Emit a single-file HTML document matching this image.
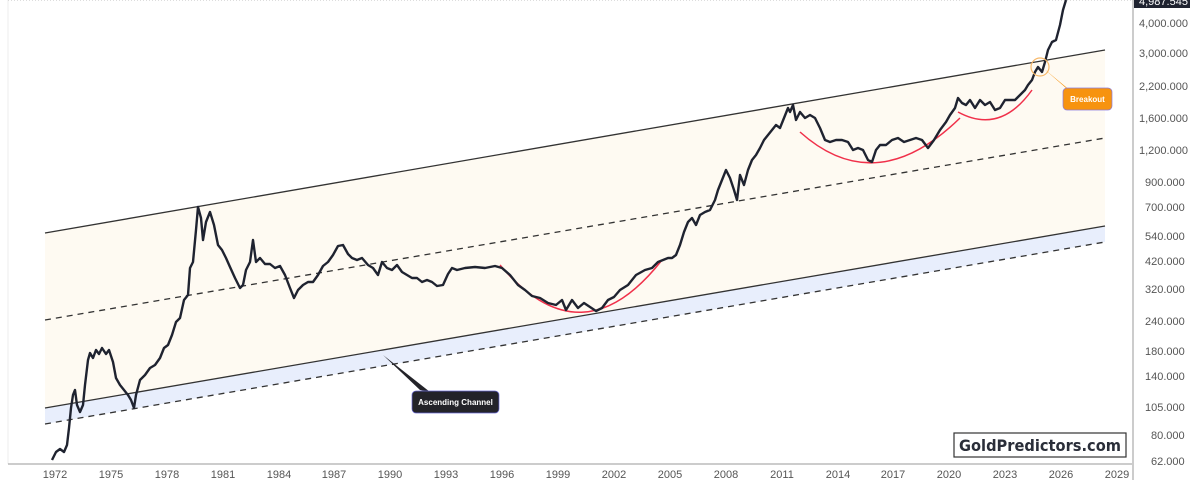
<!DOCTYPE html>
<html><head><meta charset="utf-8"><style>
body{margin:0;background:#fff;font-family:"Liberation Sans",sans-serif}
svg{display:block}
</style></head><body>
<svg width="1200" height="480" viewBox="0 0 1200 480" xmlns="http://www.w3.org/2000/svg">
<rect width="1200" height="480" fill="#fff"/>
<line x1="8" y1="0" x2="8" y2="464" stroke="#eee"/>
<line x1="8" y1="0" x2="1132" y2="0" stroke="#bbb" stroke-dasharray="1,2"/>
<polygon points="45,233 1105,50 1105,226 45,408" fill="#fefaf2"/>
<polygon points="45,408 1105,226 1105,242 45,424" fill="#e8eefc"/>
<line x1="45" y1="233" x2="1105" y2="50" stroke="#333" stroke-width="1.3"/>
<line x1="45" y1="408" x2="1105" y2="226" stroke="#333" stroke-width="1.3"/>
<line x1="45" y1="424" x2="1105" y2="242" stroke="#333" stroke-width="1.3" stroke-dasharray="6,5"/>
<line x1="45" y1="320" x2="1105" y2="138" stroke="#333" stroke-width="1.3" stroke-dasharray="6,5"/>
<path d="M500,265 Q582,362 662,260" fill="none" stroke="#f0304a" stroke-width="1.5"/>
<path d="M800,132 Q876,200 960,118" fill="none" stroke="#f0304a" stroke-width="1.5"/>
<path d="M958,112 Q1000,135 1032,90" fill="none" stroke="#f0304a" stroke-width="1.5"/>
<polyline fill="none" stroke="#1f2330" stroke-width="2.4" stroke-linejoin="round" points="52,460 56,452 60,449 64,452 67,445 69,428 71,408 73,395 75,390 77,405 80,412 83,405 85,385 88,360 90,353 93,358 96,350 99,354 102,348 106,354 109,350 113,362 116,378 120,385 124,390 128,395 131,400 134,408 136,395 140,380 145,375 150,368 155,365 160,358 164,348 168,345 172,335 176,322 180,318 184,300 188,295 190,268 193,262 196,230 198,207 201,218 203,240 206,222 210,212 214,225 218,245 222,250 226,258 230,267 235,278 240,288 243,285 246,270 250,262 253,240 256,262 260,258 265,264 270,264 275,268 280,266 285,275 290,288 294,298 298,290 303,285 308,282 313,282 318,275 323,266 328,262 333,255 338,246 343,245 348,254 352,258 357,260 362,258 368,265 373,268 378,275 382,262 387,268 392,270 397,265 402,272 407,275 412,278 417,278 422,282 427,280 432,282 437,286 443,285 448,274 452,268 457,270 465,268 475,267 485,268 495,266 502,268 510,275 518,285 525,290 532,296 540,298 548,303 556,305 562,300 566,310 572,300 578,308 584,303 590,307 596,311 602,308 608,300 614,297 620,290 628,285 636,275 645,270 652,268 658,262 663,260 668,258 672,258 676,255 680,245 684,232 688,222 692,218 696,225 700,215 705,212 710,210 715,200 718,190 722,180 726,170 730,178 734,190 737,200 740,175 744,185 748,170 752,160 756,155 760,148 764,140 768,135 772,130 776,125 780,128 784,118 788,108 790,112 793,105 796,120 800,112 805,118 810,115 815,118 820,128 825,140 830,142 836,140 842,140 848,142 853,150 858,148 863,150 868,160 872,162 876,150 880,145 886,145 892,140 898,138 904,142 910,140 916,138 922,140 928,148 934,140 940,130 946,122 950,115 955,108 958,98 962,103 966,105 970,100 975,108 980,100 985,105 990,102 995,110 1000,108 1005,100 1010,100 1015,100 1020,95 1025,90 1028,85 1032,80 1035,72 1038,67 1042,72 1045,62 1048,50 1052,42 1056,40 1060,25 1063,10 1066,0"/>
<circle cx="1040" cy="67" r="9" fill="none" stroke="#f7b96a" stroke-width="1.2"/>
<polygon points="1043,68 1066,88 1072,92" fill="#f7930f"/>
<rect x="1063" y="88" width="49" height="22" rx="4" fill="#f7930f" stroke="#8a7be0" stroke-width="0.7"/>
<text x="1087.5" y="102" font-size="8" font-weight="bold" fill="#fff" text-anchor="middle">Breakout</text>
<polygon points="383,355 420,390 430,392" fill="#232329"/>
<rect x="412" y="391" width="87" height="22" rx="4" fill="#232329" stroke="#6b6bd6" stroke-width="0.7"/>
<text x="455.5" y="405" font-size="8" font-weight="bold" fill="#fff" text-anchor="middle">Ascending Channel</text>
<rect x="954" y="433" width="172" height="24" fill="#fff" stroke="#333" stroke-width="1.2"/>
<text x="959" y="451" font-size="16" font-weight="bold" fill="#2a2e39" textLength="162" lengthAdjust="spacingAndGlyphs" font-family="DejaVu Sans, sans-serif">GoldPredictors.com</text>
<line x1="8" y1="464" x2="1132" y2="464" stroke="#999"/>
<line x1="1133" y1="0" x2="1133" y2="480" stroke="#999"/>
<g font-size="11" fill="#555" text-anchor="middle">
<text x="55" y="478">1972</text><text x="111" y="478">1975</text><text x="167" y="478">1978</text><text x="223" y="478">1981</text><text x="279" y="478">1984</text><text x="334" y="478">1987</text><text x="390" y="478">1990</text><text x="446" y="478">1993</text><text x="502" y="478">1996</text><text x="558" y="478">1999</text><text x="614" y="478">2002</text><text x="670" y="478">2005</text><text x="726" y="478">2008</text><text x="782" y="478">2011</text><text x="838" y="478">2014</text><text x="893" y="478">2017</text><text x="949" y="478">2020</text><text x="1005" y="478">2023</text><text x="1061" y="478">2026</text><text x="1117" y="478">2029</text>
</g>
<g font-size="11" fill="#555">
<text x="1139" y="27">4,000.000</text><text x="1139" y="57">3,000.000</text><text x="1139" y="90">2,200.000</text><text x="1139" y="122">1,600.000</text><text x="1139" y="154">1,200.000</text><text x="1145" y="186">900.000</text><text x="1145" y="211">700.000</text><text x="1145" y="240">540.000</text><text x="1145" y="265">420.000</text><text x="1145" y="293">320.000</text><text x="1145" y="325">240.000</text><text x="1145" y="355">180.000</text><text x="1145" y="380">140.000</text><text x="1145" y="411">105.000</text><text x="1151" y="439">80.000</text><text x="1151" y="465">62.000</text>
</g>
<rect x="1134" y="-6" width="56" height="14" fill="#1f2330"/>
<text x="1139" y="5" font-size="11" fill="#fff">4,987.545</text>
</svg>
</body></html>
